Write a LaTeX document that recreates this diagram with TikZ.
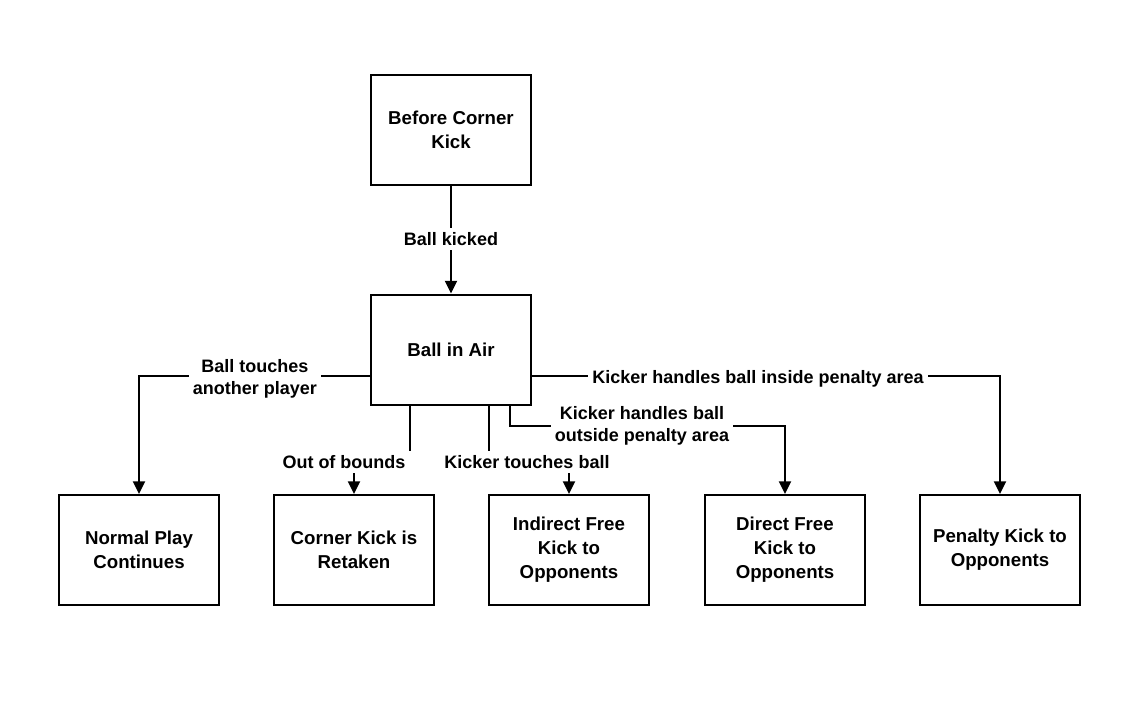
\documentclass[tikz,border=0pt]{standalone}
\usepackage{fontspec}
\setmainfont{Liberation Sans}
\usetikzlibrary{arrows.meta}
\begin{document}
\begin{tikzpicture}[x=0.75pt,y=-0.75pt,
  box/.style={draw,line width=1.5pt,minimum width=120pt,minimum height=82.5pt,
    align=center,font=\bfseries\fontsize{14}{18}\selectfont,inner sep=2pt},
  arr/.style={line width=1.5pt,-{Triangle[length=9.5pt,width=9pt]}},
  lbl/.style={fill=white,align=center,inner sep=3pt,
    font=\bfseries\fontsize{13.5}{16.5}\selectfont}]
\useasboundingbox (0,0) rectangle (1147,703);
\node[box] (before) at (451,130) {Before Corner\\Kick};
\node[box] (air) at (451,349.5) {Ball in Air};
\node[box] (normal) at (139,550) {Normal Play\\Continues};
\node[box] (retaken) at (354,550) {Corner Kick is\\Retaken};
\node[box] (indirect) at (569,550) {Indirect Free\\Kick to\\Opponents};
\node[box] (direct) at (785,550) {Direct Free\\Kick to\\Opponents};
\node[box] (penalty) at (1000,550) {Penalty Kick to\\Opponents};

\draw[arr] (before) -- (air);
\node[lbl] at (451,239) {Ball kicked};

\draw[arr] ([yshift=-20pt]air.west) -| (normal.north);
\node[lbl] at (255,379) {Ball touches\\another player};

\draw[arr] ([xshift=-30.75pt]air.south) -- ++(0,57) -| (retaken.north);
\node[lbl,inner xsep=5pt] at (344,462) {Out of bounds};

\draw[arr] ([xshift=28.5pt]air.south) -- ++(0,57) -| (indirect.north);
\node[lbl] at (527,462) {Kicker touches ball};

\draw[arr] ([xshift=44.25pt]air.south) -- ++(0,20) -| (direct.north);
\node[lbl] at (642,426) {Kicker handles ball\\outside penalty area};

\draw[arr] ([yshift=-20pt]air.east) -| (penalty.north);
\node[lbl] at (758,379) {Kicker handles ball inside penalty area};
\end{tikzpicture}
\end{document}
